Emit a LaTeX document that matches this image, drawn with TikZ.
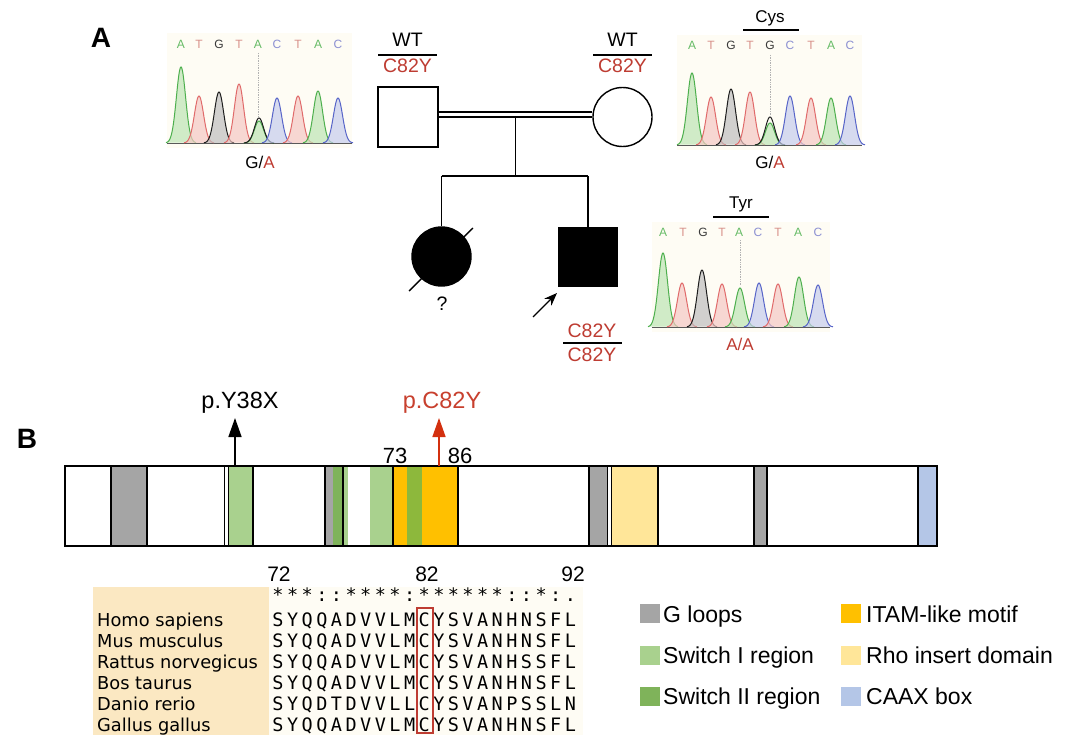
\documentclass[tikz,border=0pt]{standalone}
\usepackage{fontspec}
\setmainfont{Liberation Sans}
\newfontfamily\namefont{DejaVu Sans}
\newfontfamily\seqfont{DejaVu Sans Mono}
\usetikzlibrary{arrows.meta,calc}
\definecolor{gen}{HTML}{BE3C32}
\definecolor{mutred}{HTML}{C8402E}
\definecolor{arrred}{HTML}{D3300F}
\definecolor{gloop}{HTML}{A5A5A5}
\definecolor{swone}{HTML}{A9D18E}
\definecolor{swtwo}{HTML}{7FB35A}
\definecolor{swtwob}{HTML}{8DB83C}
\definecolor{itam}{HTML}{FFC000}
\definecolor{rho}{HTML}{FFE699}
\definecolor{caax}{HTML}{B4C6E7}
\definecolor{namebg}{HTML}{FBE8C2}
\definecolor{seqbg}{HTML}{FEFCF4}
\definecolor{chrbg}{HTML}{FEFCF4}
\definecolor{lnA}{HTML}{4DAF4D}
\definecolor{fA}{HTML}{BDE5B5}
\definecolor{lnT}{HTML}{E06A6A}
\definecolor{fT}{HTML}{F5C8C4}
\definecolor{lnG}{HTML}{1E1E1E}
\definecolor{fG}{HTML}{BEBEBE}
\definecolor{lnC}{HTML}{5865C8}
\definecolor{fC}{HTML}{C6CCEE}
\definecolor{tA}{HTML}{66BB66}
\definecolor{tT}{HTML}{D8918A}
\definecolor{tG}{HTML}{3A3A3A}
\definecolor{tC}{HTML}{8C90D2}
\newcommand\chrompeak[4]{\filldraw[pk#4] plot[domain=-15:15,samples=41,smooth] ({#1+\x},{#2-#3*exp(-(\x*\x)/42)});}
\tikzset{
  pkA/.style={draw=lnA, fill=fA, fill opacity=0.7, line width=1},
  pkT/.style={draw=lnT, fill=fT, fill opacity=0.7, line width=1},
  pkG/.style={draw=lnG, fill=fG, fill opacity=0.7, line width=1},
  pkC/.style={draw=lnC, fill=fC, fill opacity=0.7, line width=1},
  pkO/.style={draw=lnG, fill=none, line width=1},
  bl/.style={font=\fontsize{12}{13}\selectfont, anchor=base, inner sep=0},
  gt/.style={font=\fontsize{19.5}{22}\selectfont, inner sep=0, anchor=base},
  cl/.style={font=\fontsize{17}{20}\selectfont, inner sep=0, anchor=base},
  ped/.style={line width=1.4},
  seg/.style={line width=1.8},
  lg/.style={font=\fontsize{23}{26}\selectfont, inner sep=0, anchor=base west},
  sq/.style={font=\seqfont\fontsize{18.5}{20}\selectfont, inner sep=0, anchor=base},
  nm/.style={font=\namefont\fontsize{17.8}{20}\selectfont, inner sep=0, anchor=base west},
  panel/.style={font=\fontsize{28}{30}\selectfont\bfseries, inner sep=0, anchor=base},
  chrbase/.style={line width=1, black!65},
  guide/.style={densely dotted, gray!60, line width=0.7}
}
\begin{document}
\begin{tikzpicture}[x=1pt,y=-1pt]
\useasboundingbox (0,0) rectangle (1080,752);
\fill[white] (0,0) rectangle (1080,752);

% panel letters
\node[panel] (labA) at (101,48) {A};
\node[panel] (labB) at (27,448) {B};

% ---------- chromatogram 1 ----------
\fill[chrbg] (167,33) rectangle (352,148);
\draw[guide] (258,53) -- (258,116);
\draw[chrbase] (167,143) -- (352,143);
\chrompeak{181}{143}{76}{A}
\chrompeak{199}{143}{47}{T}
\chrompeak{219}{143}{51}{G}
\chrompeak{239}{143}{59}{T}
\chrompeak{259}{143}{22}{A}
\chrompeak{259}{143}{25}{O}
\chrompeak{277}{143}{45}{C}
\chrompeak{298}{143}{47}{T}
\chrompeak{318}{143}{52}{A}
\chrompeak{338}{143}{45}{C}
\foreach \xx/\L/\cc [count=\i] in {181/A/tA,199/T/tT,219/G/tG,239/T/tT,258/A/tA,277/C/tC,298/T/tT,318/A/tA,338/C/tC}
  \node[bl, text=\cc] (pa\i) at (\xx,49) {\L};
\node[cl] (ga1) at (260,168) {G/\textcolor{gen}{A}};

% ---------- chromatogram 2 ----------
\fill[chrbg] (677,35) rectangle (862,150);
\node[cl] (cys) at (770,23) {Cys};
\draw[line width=1.3] (743,30) -- (799,30);
\draw[guide] (770,55) -- (770,115);
\draw[chrbase] (677,145) -- (862,145);
\chrompeak{692}{145}{72}{A}
\chrompeak{711}{145}{48}{T}
\chrompeak{731}{145}{56}{G}
\chrompeak{750}{145}{53}{T}
\chrompeak{770}{145}{22}{A}
\chrompeak{770}{145}{28}{O}
\chrompeak{790}{145}{49}{C}
\chrompeak{811}{145}{47}{T}
\chrompeak{831}{145}{47}{A}
\chrompeak{850}{145}{49}{C}
\foreach \xx/\L/\cc [count=\i] in {692/A/tA,711/T/tT,731/G/tG,750/T/tT,770/G/tG,790/C/tC,811/T/tT,831/A/tA,850/C/tC}
  \node[bl, text=\cc] (pb\i) at (\xx,50) {\L};
\node[cl] (ga2) at (770,168) {G/\textcolor{gen}{A}};

% ---------- chromatogram 3 ----------
\fill[chrbg] (652,222) rectangle (830,332);
\node[cl] (tyr) at (741,208) {Tyr};
\draw[line width=1.3] (713,217) -- (769,217);
\draw[guide] (740,240) -- (740,285);
\draw[chrbase] (652,327) -- (830,327);
\chrompeak{663}{327}{74}{A}
\chrompeak{682}{327}{44}{T}
\chrompeak{702}{327}{57}{G}
\chrompeak{722}{327}{43}{T}
\chrompeak{740}{327}{39}{A}
\chrompeak{759}{327}{44}{C}
\chrompeak{778}{327}{43}{T}
\chrompeak{799}{327}{50}{A}
\chrompeak{818}{327}{42}{C}
\foreach \xx/\L/\cc [count=\i] in {663/A/tA,683/T/tT,703/G/tG,722/T/tT,739/A/tA,758/C/tC,778/T/tT,798/A/tA,818/C/tC}
  \node[bl, text=\cc] (pc\i) at (\xx,236) {\L};
\node[cl, text=gen] (aa3) at (740,350) {A/A};

% ---------- pedigree ----------
\node[draw, ped, minimum size=60, inner sep=0] (fa) at (408,117) {};
\node[draw, ped, circle, minimum size=59, inner sep=0] (mo) at (622.5,117) {};
\node[draw, ped, circle, fill=black, minimum size=59, inner sep=0] (da) at (441.5,256.5) {};
\node[draw, ped, fill=black, minimum size=58, inner sep=0] (so) at (588,257) {};
\draw[line width=1.3, double, double distance=3.6pt] ([yshift=2.5pt]fa.east) -- ([yshift=2.5pt]mo.west);
\coordinate (mid) at ($(fa.east)!0.5!(mo.west)$);
\coordinate (sib) at ($(mid)+(0,59)$);
\draw[ped] ([yshift=-0.5pt]mid) -- (sib);
\draw[ped] (da.north |- sib) -- (so.north |- sib);
\draw[ped] (da.north |- sib) -- (da.north);
\draw[ped] (so.north |- sib) -- (so.north);
\draw[ped] ($(da.center)+(-32.5,34.5)$) -- ($(da.center)+(31.5,-28.5)$);
\node[gt] (qm) at (442,310) {?};
\coordinate (arrS) at (533,317);
\coordinate (arrE) at (557,293);
\draw[ped, -{Stealth[length=13pt,width=10pt]}] (arrS) -- (arrE);
% genotypes
\node[gt] (fwt) at (407.5,47) {WT};
\draw[line width=1.3] (378,55) -- (437,55);
\node[gt, text=gen] (fmu) at (407.5,73) {C82Y};
\node[gt] (mwt) at (622.5,47) {WT};
\draw[line width=1.3] (593,55) -- (652,55);
\node[gt, text=gen] (mmu) at (622.5,73) {C82Y};
\node[gt, text=gen] (smu1) at (592,337) {C82Y};
\draw[line width=1.3] (563,343) -- (622,343);
\node[gt, text=gen] (smu2) at (592,361) {C82Y};

% ---------- protein bar ----------
\fill[gloop] (111,466) rectangle (147,546);
\fill[swone] (228.5,466) rectangle (253,546);
\fill[gloop] (325,466) rectangle (333,546);
\fill[swtwo] (333,466) rectangle (343,546);
\fill[swone] (343,466) rectangle (348,546);
\fill[swone] (370,466) rectangle (392,546);
\fill[itam] (393,466) rectangle (407,546);
\fill[swtwob] (407,466) rectangle (422,546);
\fill[itam] (422,466) rectangle (458,546);
\fill[gloop] (589,466) rectangle (607.5,546);
\fill[rho] (611.5,466) rectangle (658,546);
\fill[gloop] (754,466) rectangle (767,546);
\fill[caax] (918,466) rectangle (937,546);
\foreach \xx in {111,147,224.5,228.5,253,325,343,393,458,589,607.5,611.5,658,754,767,918}
  \draw[seg] (\xx,466) -- (\xx,546);
\node[draw, seg, minimum width=872, minimum height=80, inner sep=0] (bar) at (501,506) {};
\coordinate (yb) at (235,466);
\coordinate (yt) at (235,418);
\draw[line width=1.5, -{Triangle[length=19pt,width=13pt]}] (yb) -- (yt);
\coordinate (cb) at (439,466);
\coordinate (ct) at (439,418);
\draw[line width=1.5, arrred, -{Triangle[length=19pt,width=13pt]}] (cb) -- (ct);
\node[font=\fontsize{23.5}{26}\selectfont, inner sep=0, anchor=base] (ymut) at (240,408) {p.Y38X};
\node[font=\fontsize{23.5}{26}\selectfont, inner sep=0, anchor=base, text=mutred] (cmut) at (442,408) {p.C82Y};
\node[font=\fontsize{22}{24}\selectfont, inner sep=0, anchor=base] (n73) at (395,463) {73};
\node[font=\fontsize{22}{24}\selectfont, inner sep=0, anchor=base] (n86) at (460,463) {86};

% ---------- alignment ----------
\fill[namebg] (93,587) rectangle (269,735);
\fill[seqbg] (269,587) rectangle (583,735);
\node[font=\fontsize{21}{24}\selectfont, inner sep=0, anchor=base] (p72) at (279,581) {72};
\node[font=\fontsize{21}{24}\selectfont, inner sep=0, anchor=base] (p82) at (427,581) {82};
\node[font=\fontsize{21}{24}\selectfont, inner sep=0, anchor=base] (p92) at (573,581) {92};
\foreach \c [count=\i] in {*,*,*,:,:,*,*,*,*,:,*,*,*,*,*,*,:,:,*,:,.}
  \node[sq] (cons\i) at ({278+14.62*(\i-1)},601) {\c};
\foreach \nm [count=\r] in {Homo sapiens,Mus musculus,Rattus norvegicus,Bos taurus,Danio rerio,Gallus gallus}
  \node[nm] (name\r) at (97,{626+21.1*(\r-1)}) {\nm};
\foreach \row [count=\r] in {{S,Y,Q,Q,A,D,V,V,L,M,C,Y,S,V,A,N,H,N,S,F,L},{S,Y,Q,Q,A,D,V,V,L,M,C,Y,S,V,A,N,H,N,S,F,L},{S,Y,Q,Q,A,D,V,V,L,M,C,Y,S,V,A,N,H,S,S,F,L},{S,Y,Q,Q,A,D,V,V,L,M,C,Y,S,V,A,N,H,N,S,F,L},{S,Y,Q,D,T,D,V,V,L,L,C,Y,S,V,A,N,P,S,S,L,N},{S,Y,Q,Q,A,D,V,V,L,M,C,Y,S,V,A,N,H,N,S,F,L}}
  \foreach \c [count=\i] in \row
    \node[sq] (s\r-\i) at ({278+14.62*(\i-1)},{626+21.1*(\r-1)}) {\c};
\node[draw=gen, line width=1.3, minimum width=16, minimum height=125, inner sep=0] (cbox) at (425,670.5) {};

% ---------- legend ----------
\fill[gloop] (640,604) rectangle (660,623);
\node[lg] (lg1) at (663,622) {G loops};
\fill[swone] (640,646) rectangle (660,665);
\node[lg] (lg2) at (663,663) {Switch I region};
\fill[swtwo] (640,687) rectangle (660,706);
\node[lg] (lg3) at (663,704) {Switch II region};
\fill[itam] (841,604) rectangle (861,623);
\node[lg] (lg4) at (866,622) {ITAM-like motif};
\fill[rho] (841,646) rectangle (861,665);
\node[lg] (lg5) at (866,663) {Rho insert domain};
\fill[caax] (841,687) rectangle (861,706);
\node[lg] (lg6) at (866,704) {CAAX box};
\end{tikzpicture}
\end{document}
